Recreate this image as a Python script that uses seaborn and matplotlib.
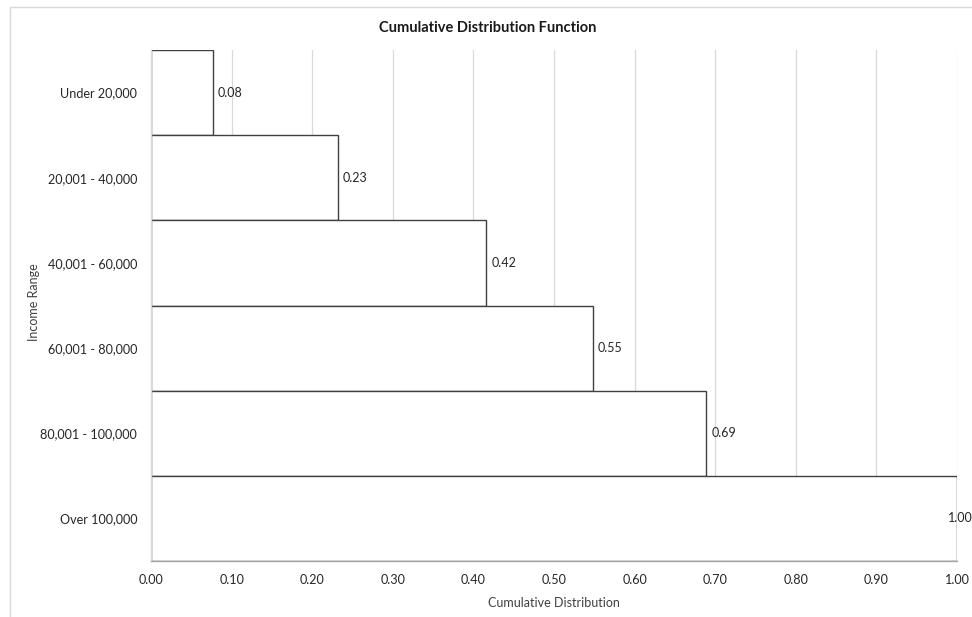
import matplotlib
matplotlib.use("Agg")
import matplotlib.pyplot as plt
import seaborn as sns
import pandas as pd
from matplotlib.lines import Line2D

categories = ["Under 20,000", "20,001 - 40,000", "40,001 - 60,000",
              "60,001 - 80,000", "80,001 - 100,000", "Over 100,000"]
cdf_values = [0.077, 0.232, 0.416, 0.548, 0.689, 1.0]
x_ticks = [0.0, 0.1, 0.2, 0.3, 0.4, 0.5, 0.6, 0.7, 0.8, 0.9, 1.0]

sns.set_theme(style="white")
plt.rcParams['font.family'] = ['Lato', 'DejaVu Sans']

df = pd.DataFrame({"Income Range": categories, "Cumulative Distribution": cdf_values})

fig = plt.figure(figsize=(9.72, 6.17), dpi=100)
ax = fig.add_axes([151/972, 1-561/617, (957-151)/972, (561-50)/617])

ax.set_axisbelow(True)
for t in x_ticks[1:]:
    ax.axvline(t, color="#d9d9d9", lw=0.9, zorder=0)

sns.barplot(data=df, x="Cumulative Distribution", y="Income Range", orient="h",
            color="white", edgecolor="#404040", linewidth=1.0, width=1.0,
            saturation=1, ax=ax, zorder=2)

for i, v in enumerate(cdf_values):
    xpos = min(v + 0.006, 0.989)
    ax.text(xpos, i, f"{v:.2f}", va="center", ha="left", fontsize=9,
            color="#262626", zorder=3, clip_on=False)

ax.set_xlim(0, 1.0)
ax.set_ylim(5.5, -0.5)
ax.set_xticks(x_ticks)
ax.set_xticklabels([f"{t:.2f}" for t in x_ticks])
ax.tick_params(axis="both", length=0, labelsize=9.1, colors="#262626")
ax.tick_params(axis="x", pad=9)
ax.tick_params(axis="y", pad=10)

for s in ["top", "right"]:
    ax.spines[s].set_visible(False)
ax.spines["left"].set_color("#d9d9d9")
ax.spines["left"].set_linewidth(1.0)
ax.spines["bottom"].set_color("#a6a6a6")
ax.spines["bottom"].set_linewidth(1.0)

ax.set_xlabel("Cumulative Distribution", fontsize=9, color="#404040")
ax.xaxis.set_label_coords(0.5, -(597-561)/511)
ax.set_ylabel("Income Range", fontsize=9, color="#404040")
ax.yaxis.set_label_coords(-(151-40)/806, (561-302)/511)

fig.text(488/972, 1-28/617, "Cumulative Distribution Function", ha="center", va="center",
         fontsize=10.5, fontweight="bold", color="#1a1a1a")

fig.add_artist(Line2D([10/972, 10/972], [0, 1-7/617], transform=fig.transFigure,
                      color="#d9d9d9", lw=1.0))
fig.add_artist(Line2D([10/972, 1], [1-7/617, 1-7/617], transform=fig.transFigure,
                      color="#d9d9d9", lw=1.0))

fig.savefig("out.png", dpi=100)
